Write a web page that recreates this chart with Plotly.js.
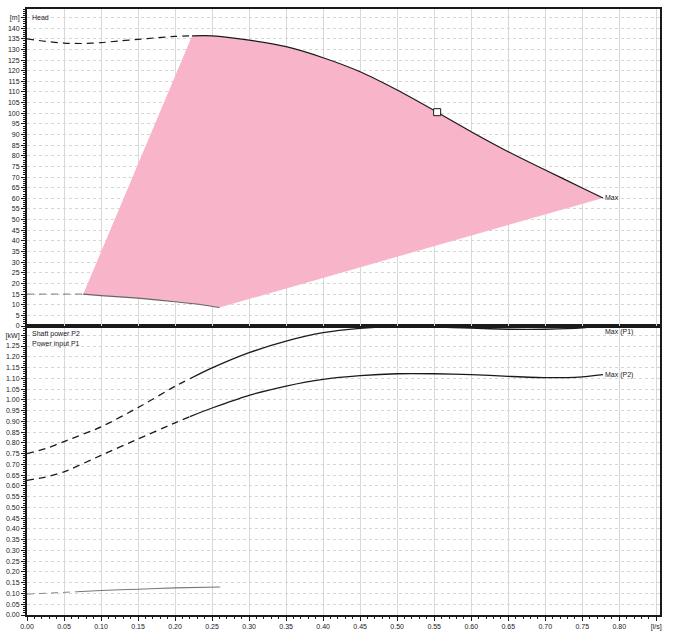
<!DOCTYPE html>
<html>
<head>
<meta charset="utf-8">
<script src="https://cdn.plot.ly/plotly-3.0.1.min.js"></script>
<style>html,body{margin:0;padding:0;background:#fff;}#chart{width:673px;height:644px;}</style>
</head>
<body>
<div id="chart"></div>
<script>
// ---- data ----
// Head curve (max speed), dashed part and solid part
const headDashX = [0, 0.025, 0.05, 0.075, 0.10, 0.125, 0.15, 0.175, 0.20, 0.223];
const headDashY = [135, 133.8, 133.0, 132.8, 133.2, 134.0, 134.7, 135.5, 136.1, 136.4];
const headSolidX = [0.223, 0.25, 0.30, 0.35, 0.40, 0.45, 0.50, 0.554, 0.60, 0.65, 0.70, 0.75, 0.778];
const headSolidY = [136.4, 136.4, 134.4, 131.3, 126.1, 119.5, 110.9, 100.5, 91.3, 81.9, 73.3, 64.9, 60.2];
// Head curve (min speed)
const minDashX = [0, 0.04, 0.076];
const minDashY = [15, 15.1, 15.0];
const minSolidX = [0.076, 0.10, 0.15, 0.20, 0.234, 0.26];
const minSolidY = [15.0, 14.3, 13.1, 11.4, 10.1, 8.7];
// Duty point
const dutyX = [0.554];
const dutyY = [100.5];
// Power input P1 (max speed)
const p1DashX = [0, 0.025, 0.05, 0.10, 0.15, 0.20, 0.22];
const p1DashY = [0.75, 0.773, 0.806, 0.874, 0.964, 1.063, 1.098];
const p1SolidX = [0.22, 0.25, 0.30, 0.35, 0.40, 0.45, 0.50, 0.55, 0.60, 0.65, 0.70, 0.75, 0.778];
const p1SolidY = [1.098, 1.148, 1.219, 1.273, 1.312, 1.332, 1.341, 1.339, 1.333, 1.328, 1.328, 1.334, 1.345];
// Shaft power P2 (max speed)
const p2DashX = [0, 0.025, 0.05, 0.10, 0.15, 0.20, 0.22];
const p2DashY = [0.626, 0.641, 0.665, 0.742, 0.818, 0.893, 0.922];
const p2SolidX = [0.22, 0.25, 0.30, 0.35, 0.40, 0.45, 0.50, 0.55, 0.60, 0.65, 0.70, 0.75, 0.778];
const p2SolidY = [0.922, 0.962, 1.021, 1.064, 1.095, 1.112, 1.121, 1.121, 1.117, 1.109, 1.103, 1.107, 1.117];
// Power at min speed
const pMinDashX = [0, 0.067];
const pMinDashY = [0.097, 0.108];
const pMinSolidX = [0.067, 0.10, 0.15, 0.20, 0.261];
const pMinSolidY = [0.108, 0.114, 0.120, 0.126, 0.130];

// Tick labels
const xTickVals = [0,0.05,0.10,0.15,0.20,0.25,0.30,0.35,0.40,0.45,0.50,0.55,0.60,0.65,0.70,0.75,0.80,0.85];
const xTickText = ["0.00","0.05","0.10","0.15","0.20","0.25","0.30","0.35","0.40","0.45","0.50","0.55","0.60","0.65","0.70","0.75","0.80","[l/s]"];
const headTickVals = [0,5,10,15,20,25,30,35,40,45,50,55,60,65,70,75,80,85,90,95,100,105,110,115,120,125,130,135,140,145];
const headTickText = ["0","5","10","15","20","25","30","35","40","45","50","55","60","65","70","75","80","85","90","95","100","105","110","115","120","125","130","135","140","[m]"];
const powTickVals = [0,0.05,0.10,0.15,0.20,0.25,0.30,0.35,0.40,0.45,0.50,0.55,0.60,0.65,0.70,0.75,0.80,0.85,0.90,0.95,1.00,1.05,1.10,1.15,1.20,1.25,1.30];
const powTickText = ["0.00","0.05","0.10","0.15","0.20","0.25","0.30","0.35","0.40","0.45","0.50","0.55","0.60","0.65","0.70","0.75","0.80","0.85","0.90","0.95","1.00","1.05","1.10","1.15","1.20","1.25","[kW]"];

// ---- styling ----
const FONT = "Liberation Sans, Arial, sans-serif";
const DARK = "#1a1a1a";
const DASH = "7px,5px";
const PINK = "#f8b4c9";

// operating area polygon: max head curve + min head curve reversed
const areaX = headSolidX.concat(minSolidX.slice().reverse());
const areaY = headSolidY.concat(minSolidY.slice().reverse());

const traces = [
  {x: areaX, y: areaY, xaxis: "x2", yaxis: "y", type: "scatter", mode: "lines",
   fill: "toself", fillcolor: PINK, line: {width: 0, color: PINK}, hoverinfo: "skip"},
  {x: headDashX, y: headDashY, xaxis: "x2", yaxis: "y", mode: "lines",
   line: {color: DARK, width: 1.2, dash: DASH, shape: "spline", smoothing: 0.8}},
  {x: headSolidX, y: headSolidY, xaxis: "x2", yaxis: "y", mode: "lines",
   line: {color: DARK, width: 1.2, shape: "spline", smoothing: 0.5}},
  {x: minDashX, y: minDashY, xaxis: "x2", yaxis: "y", mode: "lines",
   line: {color: "#777", width: 1, dash: DASH}},
  {x: minSolidX, y: minSolidY, xaxis: "x2", yaxis: "y", mode: "lines",
   line: {color: "#666", width: 1.1, shape: "spline", smoothing: 0.6}},
  {x: dutyX, y: dutyY, xaxis: "x2", yaxis: "y", mode: "markers",
   marker: {symbol: "square", size: 7, color: "#fff", line: {color: DARK, width: 1}}},
  {x: p1DashX, y: p1DashY, xaxis: "x", yaxis: "y2", mode: "lines",
   line: {color: DARK, width: 1.3, dash: DASH, shape: "spline", smoothing: 0.6}},
  {x: p1SolidX, y: p1SolidY, xaxis: "x", yaxis: "y2", mode: "lines",
   line: {color: DARK, width: 1.3, shape: "spline", smoothing: 0.6}},
  {x: p2DashX, y: p2DashY, xaxis: "x", yaxis: "y2", mode: "lines",
   line: {color: DARK, width: 1.3, dash: DASH, shape: "spline", smoothing: 0.6}},
  {x: p2SolidX, y: p2SolidY, xaxis: "x", yaxis: "y2", mode: "lines",
   line: {color: DARK, width: 1.3, shape: "spline", smoothing: 0.6}},
  {x: pMinDashX, y: pMinDashY, xaxis: "x", yaxis: "y2", mode: "lines",
   line: {color: "#888", width: 1, dash: DASH}},
  {x: pMinSolidX, y: pMinSolidY, xaxis: "x", yaxis: "y2", mode: "lines",
   line: {color: "#777", width: 1.1, shape: "spline", smoothing: 0.6}}
];

const SPLIT = (615 - 326) / 606;

const axBase = {
  showline: true, linecolor: DARK, linewidth: 2, mirror: true,
  zeroline: false, ticks: "outside", ticklen: 4, tickwidth: 1, tickcolor: DARK,
  tickfont: {family: FONT, size: 7, color: DARK},
  fixedrange: true
};

const layout = {
  width: 673, height: 644,
  margin: {l: 27, r: 13, t: 9, b: 29},
  paper_bgcolor: "#fff", plot_bgcolor: "#fff",
  showlegend: false,
  font: {family: FONT, size: 7, color: DARK},
  xaxis: Object.assign({}, axBase, {
    anchor: "y2", domain: [0, 1], range: [0, 0.855],
    tickmode: "array", tickvals: xTickVals, ticktext: xTickText,
    showgrid: true, gridcolor: "#d9d9d9", gridwidth: 1,
    minor: {tickmode: "linear", tick0: 0, dtick: 0.01, ticks: "outside", ticklen: 2, tickcolor: DARK, showgrid: false}
  }),
  xaxis2: Object.assign({}, axBase, {
    anchor: "y", domain: [0, 1], range: [0, 0.855], matches: "x",
    tickmode: "array", tickvals: xTickVals, ticktext: xTickText,
    showticklabels: false, ticks: "",
    showgrid: true, gridcolor: "#d9d9d9", gridwidth: 1
  }),
  yaxis: Object.assign({}, axBase, {
    anchor: "x2", domain: [SPLIT, 1], range: [0, 149],
    tickmode: "array", tickvals: headTickVals, ticktext: headTickText,
    showgrid: true, gridcolor: "#d6d6d6", gridwidth: 1, griddash: "dot",
    minor: {tickmode: "linear", tick0: 0, dtick: 1, ticks: "outside", ticklen: 2, tickcolor: DARK, showgrid: false}
  }),
  yaxis2: Object.assign({}, axBase, {
    anchor: "x", domain: [0, SPLIT], range: [0, 1.343],
    tickmode: "array", tickvals: powTickVals, ticktext: powTickText,
    showgrid: true, gridcolor: "#d6d6d6", gridwidth: 1, griddash: "dot",
    minor: {tickmode: "linear", tick0: 0, dtick: 0.01, ticks: "outside", ticklen: 2, tickcolor: DARK, showgrid: false}
  }),
  annotations: [
    {text: "Head", xref: "x2", yref: "y", x: 0.004, y: 145, xanchor: "left", yanchor: "middle", showarrow: false, font: {family: FONT, size: 7, color: DARK}},
    {text: "Shaft power P2", xref: "x", yref: "y2", x: 0.004, y: 1.305, xanchor: "left", yanchor: "middle", showarrow: false, font: {family: FONT, size: 7, color: DARK}},
    {text: "Power input P1", xref: "x", yref: "y2", x: 0.004, y: 1.261, xanchor: "left", yanchor: "middle", showarrow: false, font: {family: FONT, size: 7, color: DARK}},
    {text: "Max", xref: "x2", yref: "y", x: headSolidX[headSolidX.length-1], y: headSolidY[headSolidY.length-1], xanchor: "left", yanchor: "middle", showarrow: false, font: {family: FONT, size: 7, color: DARK}},
    {text: "Max (P1)", xref: "x", yref: "y2", x: p1SolidX[p1SolidX.length-1], y: 1.313, xanchor: "left", yanchor: "middle", showarrow: false, font: {family: FONT, size: 7, color: DARK}},
    {text: "Max (P2)", xref: "x", yref: "y2", x: p2SolidX[p2SolidX.length-1], y: p2SolidY[p2SolidY.length-1], xanchor: "left", yanchor: "middle", showarrow: false, font: {family: FONT, size: 7, color: DARK}}
  ]
};

Plotly.newPlot("chart", traces, layout, {staticPlot: true, displayModeBar: false});
</script>
</body>
</html>
